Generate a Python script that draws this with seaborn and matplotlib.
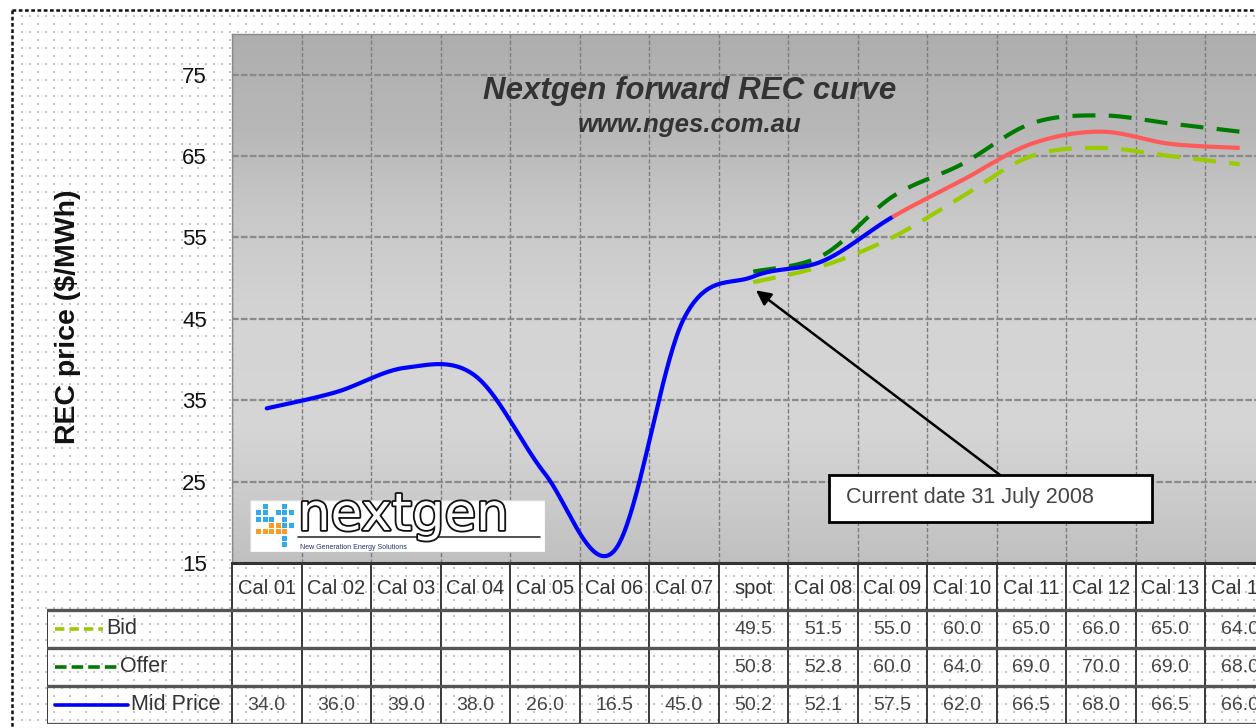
import numpy as np
import pandas as pd
import matplotlib
matplotlib.use("Agg")
import matplotlib.pyplot as plt
import seaborn as sns
from matplotlib.patches import Rectangle
from matplotlib.lines import Line2D
import matplotlib.patheffects as pe

# ---------------------------------------------------------------- data
categories = ["Cal 01", "Cal 02", "Cal 03", "Cal 04", "Cal 05", "Cal 06", "Cal 07",
              "spot", "Cal 08", "Cal 09", "Cal 10", "Cal 11", "Cal 12", "Cal 13", "Cal 14"]
bid = [np.nan] * 7 + [49.5, 51.5, 55.0, 60.0, 65.0, 66.0, 65.0, 64.0]
offer = [np.nan] * 7 + [50.8, 52.8, 60.0, 64.0, 69.0, 70.0, 69.0, 68.0]
mid = [34.0, 36.0, 39.0, 38.0, 26.0, 16.5, 45.0, 50.2, 52.1, 57.5, 62.0, 66.5, 68.0, 66.5, 66.0]
forecast_from = "Cal 09"          # mid price turns red from here on
y_ticks = [15, 25, 35, 45, 55, 65, 75]
y_max = 80
note_text = "Current date 31 July 2008"

# ---------------------------------------------------------------- style
sns.set_style("white")
plt.rcParams["font.family"] = ["Liberation Sans", "DejaVu Sans"]

W, H = 1256, 728
fig = plt.figure(figsize=(W / 100, H / 100), dpi=100)
fig.patch.set_facecolor("white")


def fx(px):
    return px / W


def fy(py):
    return 1 - py / H


# dotted chart-area texture and outer dotted frame
bg = fig.add_axes([0, 0, 1, 1], zorder=-10)
bg.set_xlim(0, W)
bg.set_ylim(H, 0)
bg.axis("off")
rows = np.arange(16, H, 8)
dx, dy = [], []
for k, r in enumerate(rows):
    step = 8 if k % 2 == 0 else 16
    xs = np.arange(22, W, step)
    dx.extend(xs)
    dy.extend([r] * len(xs))
bg.scatter(dx, dy, s=0.9, marker="s", color="#c4c4c4", linewidths=0)
bg.add_line(Line2D([12, 12], [10, H], color="#111", lw=1.8, ls=(0, (1.5, 1.0))))
bg.add_line(Line2D([12, W], [10, 10], color="#111", lw=1.8, ls=(0, (1.5, 1.0))))

# ---------------------------------------------------------------- main plot
x0, x1 = 232, 232 + 15 * 69.5
y_top, y_bot = 34, 563
ax = fig.add_axes([fx(x0), fy(y_bot), fx(x1 - x0), (y_bot - y_top) / H])
n = len(categories)
ax.set_xlim(-0.5, n - 0.5)
ax.set_ylim(y_ticks[0], y_max)

# vertical gradient fill of the plot area
stops_v = np.array([80, 68, 58, 45, 32, 22, 15])
stops_c = np.array([0xae, 0xb8, 0xc8, 0xd4, 0xd6, 0xca, 0xc0]) / 255.0
yy = np.linspace(y_max, y_ticks[0], 300)
shade = np.interp(yy, stops_v[::-1], stops_c[::-1])
grad = np.repeat(shade[:, None], 3, axis=1)[:, None, :]
ax.imshow(grad, extent=[-0.5, n - 0.5, y_ticks[0], y_max], aspect="auto", zorder=0,
          interpolation="bilinear")

ax.set_xticks([])
ax.set_xticks(np.arange(-0.5, n, 1), minor=True)
ax.set_yticks(y_ticks)
ax.grid(which="minor", axis="x", color="#7c7c7c", lw=1.0, ls=(0, (3, 1.5)), zorder=1)
ax.grid(which="major", axis="y", color="#8a8a8a", lw=1.6, ls=(0, (3, 1)), zorder=1)
ax.tick_params(which="both", length=0)
ax.tick_params(axis="y", labelsize=16, pad=18, labelcolor="#111")
for s in ("left", "top"):
    ax.spines[s].set_color("#8a8a8a")
    ax.spines[s].set_linewidth(1.0)
ax.spines["right"].set_visible(False)
ax.spines["bottom"].set_color("#333")
ax.spines["bottom"].set_linewidth(2.2)


def smooth(xs, ys, steps=40):
    """Bezier smoothing through the points (control points at 1/6 of neighbour chords)."""
    p = np.column_stack([xs, ys]).astype(float)
    out = []
    for i in range(len(p) - 1):
        p0 = p[max(i - 1, 0)]
        p1, p2 = p[i], p[i + 1]
        p3 = p[min(i + 2, len(p) - 1)]
        c1 = p1 + (p2 - p0) / 6
        c2 = p2 - (p3 - p1) / 6
        t = np.linspace(0, 1, steps, endpoint=(i == len(p) - 2))[:, None]
        seg = ((1 - t) ** 3) * p1 + 3 * ((1 - t) ** 2) * t * c1 + 3 * (1 - t) * t ** 2 * c2 + t ** 3 * p2
        out.append(seg)
    out = np.vstack(out)
    return pd.DataFrame({"x": out[:, 0], "y": out[:, 1]})


idx = np.arange(n)
df = pd.DataFrame({"cat": categories, "i": idx, "bid": bid, "offer": offer, "mid": mid})

sb = df.dropna(subset=["bid"])
so = df.dropna(subset=["offer"])
curve_bid = smooth(sb["i"], sb["bid"])
curve_off = smooth(so["i"], so["offer"])
curve_mid = smooth(df["i"], df["mid"])
split = categories.index(forecast_from)
mid_hist = curve_mid[curve_mid["x"] <= split]
mid_fore = curve_mid[curve_mid["x"] >= split]

C_BID, C_OFF, C_MID, C_FORE = "#99cc00", "#007a00", "#0000ff", "#ff5a5a"
sns.lineplot(data=curve_bid, x="x", y="y", ax=ax, sort=False, estimator=None,
             color=C_BID, lw=3.0, linestyle=(0, (5.5, 3.2)), zorder=3)
sns.lineplot(data=curve_off, x="x", y="y", ax=ax, sort=False, estimator=None,
             color=C_OFF, lw=3.0, linestyle=(0, (5.5, 3.2)), zorder=3)
sns.lineplot(data=mid_hist, x="x", y="y", ax=ax, sort=False, estimator=None,
             color=C_MID, lw=3.0, solid_capstyle="round", zorder=4)
sns.lineplot(data=mid_fore, x="x", y="y", ax=ax, sort=False, estimator=None,
             color=C_FORE, lw=3.0, solid_capstyle="butt", zorder=4)
ax.set_xlabel("")
ax.set_ylabel("")

# titles
fig.text(fx(690), fy(91), "Nextgen forward REC curve", ha="center", va="center",
         fontsize=22.5, fontweight="bold", fontstyle="italic", color="#333")
fig.text(fx(690), fy(125), "www.nges.com.au", ha="center", va="center",
         fontsize=18.5, fontweight="bold", fontstyle="italic", color="#333")
fig.text(fx(68), fy(317), "REC price ($/MWh)", rotation=90, ha="center", va="center",
         fontsize=20.5, fontweight="bold", color="#111")

# annotation box with arrow to the spot price
spot = categories.index("spot")
ax.add_patch(Rectangle((8.09, 20.04), 4.65, 5.78, facecolor="white", edgecolor="black",
                       lw=2.0, zorder=6))
ax.text(8.33, 23.1, note_text, ha="left", va="center", fontsize=15.5, color="#444", zorder=7)
ax.annotate("", xy=(spot + 0.04, mid[spot] - 1.7), xytext=(10.55, 25.82),
            arrowprops=dict(arrowstyle="-|>", color="black", lw=1.8, mutation_scale=22,
                            shrinkA=0, shrinkB=0), zorder=6)

# logo block
lax = fig.add_axes([fx(250), fy(552), fx(295), 52 / H], zorder=5)
lax.set_xlim(0, 295)
lax.set_ylim(52, 0)
lax.axis("off")
lax.add_patch(Rectangle((0, 0), 295, 52, facecolor="white", edgecolor="#dddddd", lw=1))
blue_cells = [(0, 1), (0, 2), (1, 0), (1, 1), (1, 2), (2, 2), (4, 0), (4, 1), (4, 2),
              (4, 3), (4, 5), (4, 6), (5, 1), (5, 3), (3, 1)]
orange_cells = [(0, 4), (1, 4), (2, 4), (3, 4), (3, 3), (4, 4), (2, 3)]
for (c, r) in blue_cells:
    lax.add_patch(Rectangle((6 + c * 6.5, 4 + r * 6.3), 5, 5, color="#33aaee", lw=0))
for (c, r) in orange_cells:
    lax.add_patch(Rectangle((6 + c * 6.5, 4 + r * 6.3), 5, 5, color="#ff9a22", lw=0))
lax.text(48, 30, "nextgen", ha="left", va="baseline", fontsize=37, color="white",
         family="DejaVu Sans", fontweight="normal",
         path_effects=[pe.Stroke(linewidth=2.6, foreground="#111"), pe.Normal()])
lax.add_line(Line2D([48, 290], [37, 37], color="#333", lw=1.2))
lax.text(50, 47.5, "New Generation Energy Solutions", ha="left", va="center", fontsize=5.0,
         color="#223366")

# ---------------------------------------------------------------- data table
col_left = -0.5 - (232 - 47) / 69.5
tax = fig.add_axes([fx(47), fy(724), fx(x1 - 47), (724 - 565) / H], zorder=2)
tax.set_xlim(col_left, n - 0.5)
tax.set_ylim(724, 565)
tax.axis("off")

row_edges = [565, 610, 648, 686, 724]
for b in np.arange(-0.5, n, 1):
    tax.add_line(Line2D([b, b], [565, 724], color="#2a2a2a", lw=1.3))
tax.add_line(Line2D([col_left, col_left], [610, 724], color="#2a2a2a", lw=1.3))
for e in row_edges[1:]:
    tax.add_line(Line2D([col_left, n - 0.5], [e, e], color="#555", lw=2.4))

for i, c in enumerate(categories):
    tax.text(i, 589, c, ha="center", va="center", fontsize=14.5, color="#333")

series_rows = [("Bid", bid, 629, C_BID, (0, (2.6, 1.4)), 103),
               ("Offer", offer, 667, C_OFF, (0, (3.2, 1.4)), 117),
               ("Mid Price", mid, 705, C_MID, "-", 128)]
for name, vals, yc, col, ls, key_end in series_rows:
    k0 = col_left + (55 - 47) / 69.5
    k1 = col_left + (key_end - 47) / 69.5
    tax.add_line(Line2D([k0, k1], [yc, yc], color=col, lw=2.6, ls=ls))
    tax.text(k1 + 0.04, yc, name, ha="left", va="center", fontsize=15.5, color="#333")
    for i, v in enumerate(vals):
        if not np.isnan(v):
            tax.text(i, yc, f"{v:.1f}", ha="center", va="center", fontsize=14, color="#444")

fig.savefig("out.png", dpi=100, facecolor="white")
